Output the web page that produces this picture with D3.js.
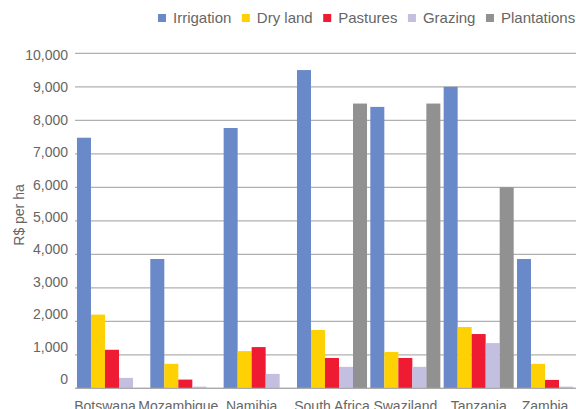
<!DOCTYPE html>
<html>
<head>
<meta charset="utf-8">
<script src="https://cdn.jsdelivr.net/npm/d3@7"></script>
<style>
  body { margin: 0; background: #fff; }
  svg { display: block; font-family: "Liberation Sans", Arial, Helvetica, sans-serif; }
</style>
</head>
<body>
<div id="chart"></div>
<script>
const categories = ['Botswana', 'Mozambique', 'Namibia', 'South Africa', 'Swaziland', 'Tanzania', 'Zambia'];
const seriesNames = ['Irrigation', 'Dry land', 'Pastures', 'Grazing', 'Plantations'];
const irrigation  = [7480, 3860, 7770, 9500, 8400, 9000, 3860];
const dryLand     = [2200, 730, 1110, 1740, 1085, 1830, 730];
const pastures    = [1150, 260, 1230, 905, 905, 1620, 250];
const grazing     = [310, 50, 430, 640, 640, 1350, 50];
const plantations = [0, 0, 0, 8500, 8500, 6000, 0];
const yTicks = [0, 1000, 2000, 3000, 4000, 5000, 6000, 7000, 8000, 9000, 10000];

const COLORS = ['#6a89c8', '#fed104', '#ee1b33', '#c3bfe0', '#929191'];
const series = [irrigation, dryLand, pastures, grazing, plantations];

const width = 576, height = 409;
const svg = d3.select('#chart').append('svg')
  .attr('width', width)
  .attr('height', height);

const y = d3.scaleLinear().domain([0, 10000]).range([388.3, 53.3]);
// tick labels sit on a slightly tighter spacing than the gridlines
const yLabel = d3.scaleLinear().domain([0, 10000]).range([379, 55]);

const x0 = d3.scaleBand().domain(categories).range([75.5, 588.5])
  .paddingInner(0.045).paddingOuter(0.02);
const x1 = d3.scaleBand().domain(seriesNames).range([0, x0.bandwidth()]);

// Gridlines
svg.append('g').selectAll('line').data(yTicks).join('line')
  .attr('x1', 75).attr('x2', width)
  .attr('y1', d => y(d)).attr('y2', d => y(d))
  .attr('stroke', '#b0b0b0')
  .attr('stroke-width', 1.3);

// Tick labels
svg.append('g').selectAll('text').data(yTicks).join('text')
  .attr('x', 68)
  .attr('y', d => yLabel(d))
  .attr('dy', '0.35em')
  .attr('text-anchor', 'end')
  .attr('font-size', '14px')
  .attr('fill', '#666')
  .text(d => d3.format(',')(d));

// Bars
const groups = svg.append('g').selectAll('g').data(categories).join('g')
  .attr('transform', d => `translate(${x0(d)},0)`);

groups.selectAll('rect')
  .data((c, i) => seriesNames.map((s, j) => ({ s, j, v: series[j][i] })))
  .join('rect')
  .attr('x', d => x1(d.s))
  .attr('width', x1.bandwidth())
  .attr('y', d => y(d.v))
  .attr('height', d => y(0) - y(d.v))
  .attr('fill', d => COLORS[d.j]);

// Bottom axis line
svg.append('line')
  .attr('x1', 75).attr('x2', width)
  .attr('y1', y(0)).attr('y2', y(0))
  .attr('stroke', '#aaa')
  .attr('stroke-width', 1.3);

// Category labels, centred on the bars that have a value
svg.append('g').selectAll('text').data(categories).join('text')
  .attr('x', (c, i) => {
    const present = seriesNames.filter((s, j) => series[j][i] > 0);
    const first = x0(c) + x1(present[0]);
    const last = x0(c) + x1(present[present.length - 1]) + x1.bandwidth();
    return (first + last) / 2;
  })
  .attr('y', 411)
  .attr('text-anchor', 'middle')
  .attr('font-size', '14px')
  .attr('fill', '#666')
  .text(d => d);

// Y axis title
svg.append('text')
  .attr('transform', 'translate(24,215) rotate(-90)')
  .attr('text-anchor', 'middle')
  .attr('font-size', '14px')
  .attr('fill', '#666')
  .text('R$ per ha');

// Legend
const legend = svg.append('g');
let lx = 158;
seriesNames.forEach((name, j) => {
  legend.append('rect')
    .attr('x', lx).attr('y', 14)
    .attr('width', 8).attr('height', 8)
    .attr('fill', COLORS[j]);
  const t = legend.append('text')
    .attr('x', lx + 15).attr('y', 18)
    .attr('dy', '0.35em')
    .attr('font-size', '15px')
    .attr('fill', '#666')
    .text(name);
  lx += 15 + t.node().getComputedTextLength() + 10.5;
});
</script>
</body>
</html>
